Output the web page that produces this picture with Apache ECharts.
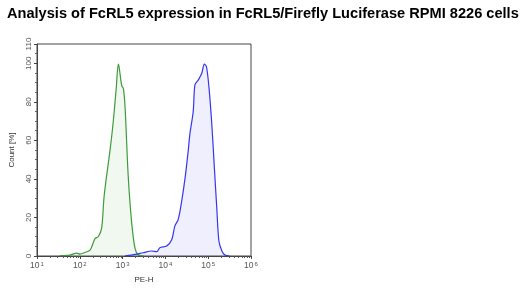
<!DOCTYPE html>
<html><head><meta charset="utf-8">
<script src="https://cdn.jsdelivr.net/npm/echarts@6/dist/echarts.min.js"></script>
<style>html,body{margin:0;padding:0;background:#fff}#c{width:530px;height:292px}</style>
</head><body><div id="c"></div>
<script>
const titleText = 'Analysis of FcRL5 expression in FcRL5/Firefly Luciferase RPMI 8226 cells';
const xAxisName = 'PE-H';
const yAxisName = 'Count [%]';
const xExponents = [1, 2, 3, 4, 5, 6];
const yTicks = [0, 20, 40, 60, 80, 100, 110];

// green (control) histogram: [PE-H, count %]
const greenX = [34, 59, 85, 100, 130, 174, 226, 269, 324, 372, 513, 603, 708, 794, 832, 955, 1047, 1148, 1349, 1622, 1950, 2344, 3162];
const greenY = [0.2, 0.5, 1.5, 1.0, 1.8, 3, 9, 10, 14.5, 31.5, 55.6, 69.4, 86.7, 99.6, 97.7, 88.4, 86.7, 76.2, 41.9, 17.7, 4, 0.5, 0];
// blue (FcRL5) histogram
const blueX = [1138, 1995, 3020, 4786, 6310, 7413, 10715, 14125, 16596, 19953, 23988, 28840, 34674, 37154, 44668, 48978, 58884, 70795, 81283, 91201, 104713, 120226, 138038, 158489, 177828, 208930, 245471, 316228];
const blueY = [0, 0.8, 1.7, 2.6, 2.3, 4.3, 5.2, 8.6, 15.5, 19, 28.4, 40.5, 56, 63, 75, 88.8, 91.4, 94.8, 99.6, 98.2, 87, 69.8, 47.4, 25, 7.8, 2.6, 0.5, 0];

const pairs = (xs, ys) => xs.map((x, i) => [x, ys[i]]);
const minorTicks = [];
for (let d = 1; d < 6; d++) for (let m = 2; m <= 9; m++) minorTicks.push(m * Math.pow(10, d));

const chart = echarts.init(document.getElementById('c'), null, {renderer: 'canvas'});
chart.setOption({
  animation: false,
  title: {
    text: titleText, left: 2, top: 1,
    textStyle: {fontFamily: 'Liberation Sans, Arial', fontWeight: 'bold', fontSize: 14.6, color: '#000'}
  },
  grid: {left: 37, right: 279, top: 44, bottom: 36, show: true, borderColor: '#444', borderWidth: 1, backgroundColor: 'transparent'},
  xAxis: {
    type: 'log', min: Math.pow(10, xExponents[0]), max: Math.pow(10, xExponents[xExponents.length - 1]), logBase: 10,
    name: xAxisName, nameLocation: 'middle', nameGap: 20,
    nameTextStyle: {fontFamily: 'Liberation Sans, Arial', fontSize: 8, color: '#333'},
    axisLine: {show: true, lineStyle: {color: '#444'}},
    axisTick: {show: true, inside: false, length: 3, lineStyle: {color: '#444'}},
    splitLine: {show: false},
    axisLabel: {
      margin: 5,
      formatter: v => '10{s|' + Math.round(Math.log10(v)) + '}',
      fontFamily: 'Liberation Sans, Arial', fontSize: 8.5, color: '#555',
      rich: {s: {fontSize: 6, verticalAlign: 'top', padding: [0, 0, 4, 1], color: '#555', fontFamily: 'Liberation Sans, Arial'}}
    }
  },
  yAxis: {
    type: 'value', min: 0, max: 110, interval: 20,
    name: yAxisName, nameLocation: 'middle', nameGap: 21, nameRotate: 90,
    nameTextStyle: {fontFamily: 'Liberation Sans, Arial', fontSize: 8, color: '#333'},
    axisLine: {show: true, lineStyle: {color: '#444'}},
    axisTick: {show: true, inside: false, length: 3, lineStyle: {color: '#444'}},
    minorTick: {show: true, splitNumber: 4, length: 2, lineStyle: {color: '#666'}},
    splitLine: {show: false},
    axisLabel: {
      rotate: 90, margin: 4, fontFamily: 'Liberation Sans, Arial', fontSize: 8, color: '#555',
      customValues: yTicks
    }
  },
  series: [
    {
      type: 'line', data: pairs(greenX, greenY), smooth: 0.3, symbol: 'none',
      lineStyle: {color: '#3c9c3c', width: 1.2},
      areaStyle: {color: 'rgba(120,190,120,0.16)'}
    },
    {
      type: 'line', data: pairs(blueX, blueY), smooth: 0.3, symbol: 'none',
      lineStyle: {color: '#3535f0', width: 1.2},
      areaStyle: {color: 'rgba(110,110,240,0.16)'}
    },
    {
      type: 'custom', data: minorTicks.map(v => [v, 0]), silent: true, clip: false,
      renderItem: (params, api) => {
        const p = api.coord([api.value(0), 0]);
        return {type: 'line', shape: {x1: Math.round(p[0]) + 0.5, y1: p[1], x2: Math.round(p[0]) + 0.5, y2: p[1] + 2}, style: {stroke: '#555', lineWidth: 1}};
      }
    }
  ]
});
</script>
</body></html>
